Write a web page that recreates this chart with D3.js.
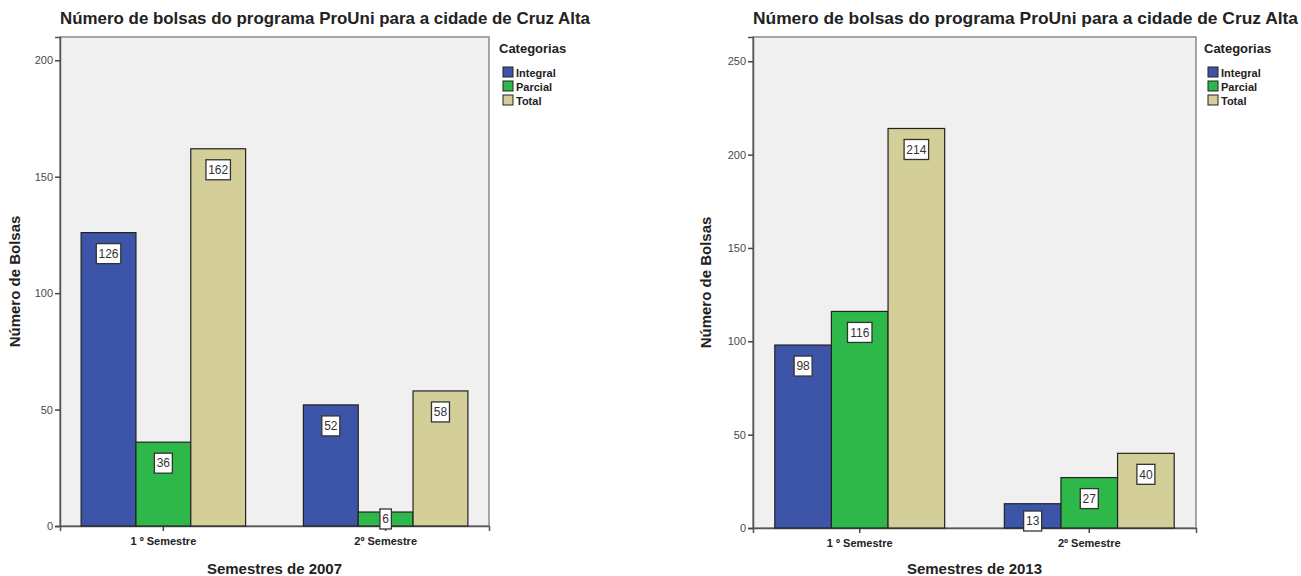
<!DOCTYPE html>
<html>
<head>
<meta charset="utf-8">
<script src="https://cdn.jsdelivr.net/npm/d3@7"></script>
<style>
  body { margin: 0; background: #fff; }
  svg { display: block; font-family: "Liberation Sans", Arial, sans-serif; }
</style>
</head>
<body>
<script>
// data
var categories = ["1 º Semestre", "2º Semestre"];
var seriesNames = ["Integral", "Parcial", "Total"];
var seriesColors = ["#3d55a8", "#2fb84a", "#d4cf98"];

var integral2007 = [126, 52];
var parcial2007 = [36, 6];
var total2007 = [162, 58];
var ticks2007 = [0, 50, 100, 150, 200];

var integral2013 = [98, 13];
var parcial2013 = [116, 27];
var total2013 = [214, 40];
var ticks2013 = [0, 50, 100, 150, 200, 250];

var chartTitle = "Número de bolsas do programa ProUni para a cidade de Cruz Alta";
var yTitle = "Número de Bolsas";
var legendTitle = "Categorias";

var svg = d3.select("body").append("svg")
    .attr("width", 1301)
    .attr("height", 576);

function drawChart(cfg) {
    var g = svg.append("g");
    var series = [cfg.integral, cfg.parcial, cfg.total];

    var x = d3.scaleBand()
        .domain(categories)
        .range([cfg.left, cfg.right])
        .paddingInner(0.26)
        .paddingOuter(0.095);
    var xs = d3.scaleBand()
        .domain(seriesNames)
        .range([0, x.bandwidth()]);
    var y = d3.scaleLinear()
        .domain([0, cfg.yMax])
        .range([cfg.bottom, cfg.top]);

    // title
    g.append("text")
        .attr("x", cfg.left)
        .attr("y", 24)
        .attr("textLength", cfg.titleWidth)
        .attr("lengthAdjust", "spacingAndGlyphs")
        .style("font-size", "17px")
        .style("font-weight", "bold")
        .style("fill", "#222")
        .text(chartTitle);

    // plot background
    g.append("rect")
        .attr("x", cfg.left)
        .attr("y", cfg.top)
        .attr("width", cfg.right - cfg.left)
        .attr("height", cfg.bottom - cfg.top)
        .attr("fill", "#f0f0f0")
        .attr("stroke", "#8a8a8a")
        .attr("stroke-width", 1.5);

    // y axis
    var yAxis = g.append("g")
        .attr("transform", "translate(" + cfg.left + ",0)")
        .call(d3.axisLeft(y).tickValues(cfg.ticks).tickSize(5).tickPadding(2));
    yAxis.select(".domain").attr("stroke", "#555").attr("stroke-width", 1.5);
    yAxis.selectAll(".tick line").attr("stroke", "#444").attr("stroke-width", 1.5);
    yAxis.selectAll("text")
        .style("font-size", "11px")
        .style("font-family", "'Liberation Sans', Arial, sans-serif")
        .style("fill", "#4a4a4a");

    // x axis
    var xAxis = g.append("g")
        .attr("transform", "translate(0," + cfg.bottom + ")")
        .call(d3.axisBottom(x).tickSize(5).tickPadding(6));
    xAxis.select(".domain").attr("stroke", "#555").attr("stroke-width", 1.5);
    xAxis.selectAll(".tick line").attr("stroke", "#444").attr("stroke-width", 1.5);
    xAxis.selectAll("text")
        .style("font-size", "11px")
        .style("font-weight", "bold")
        .style("font-family", "'Liberation Sans', Arial, sans-serif")
        .style("fill", "#222");

    // bars
    var rows = [];
    categories.forEach(function(c, i) {
        seriesNames.forEach(function(s, j) {
            rows.push({cat: c, name: s, value: series[j][i], color: seriesColors[j]});
        });
    });

    g.selectAll(".bar")
        .data(rows)
        .enter().append("rect")
        .attr("class", "bar")
        .attr("x", function(d) { return x(d.cat) + xs(d.name); })
        .attr("y", function(d) { return y(d.value); })
        .attr("width", xs.bandwidth())
        .attr("height", function(d) { return y(0) - y(d.value); })
        .attr("fill", function(d) { return d.color; })
        .attr("stroke", "#222")
        .attr("stroke-width", 1.2);

    // value labels
    var lab = g.selectAll(".lab")
        .data(rows)
        .enter().append("g")
        .attr("class", "lab")
        .attr("transform", function(d) {
            var cx = x(d.cat) + xs(d.name) + xs.bandwidth() / 2;
            var cy = Math.min(y(d.value) + 21, y(0) - 7);
            return "translate(" + cx + "," + cy + ")";
        });
    lab.append("rect")
        .attr("x", function(d) { return -(String(d.value).length * 6.5 + 5) / 2; })
        .attr("y", -10)
        .attr("width", function(d) { return String(d.value).length * 6.5 + 5; })
        .attr("height", 20)
        .attr("fill", "#fff")
        .attr("stroke", "#333")
        .attr("stroke-width", 1.3);
    lab.append("text")
        .attr("text-anchor", "middle")
        .attr("dy", "0.35em")
        .style("font-size", "12px")
        .style("fill", "#333")
        .text(function(d) { return d.value; });

    // axis titles
    g.append("text")
        .attr("transform", "translate(" + cfg.yTitleX + "," + ((cfg.top + cfg.bottom) / 2) + ") rotate(-90)")
        .attr("text-anchor", "middle")
        .style("font-size", "15px")
        .style("font-weight", "bold")
        .style("fill", "#222")
        .text(yTitle);

    g.append("text")
        .attr("x", (cfg.left + cfg.right) / 2)
        .attr("y", 574)
        .attr("text-anchor", "middle")
        .style("font-size", "15px")
        .style("font-weight", "bold")
        .style("fill", "#222")
        .text(cfg.xTitle);

    // legend
    var leg = g.append("g").attr("transform", "translate(" + cfg.legendX + ",0)");
    leg.append("text")
        .attr("x", 0)
        .attr("y", 53)
        .style("font-size", "13px")
        .style("font-weight", "bold")
        .style("fill", "#222")
        .text(legendTitle);
    var items = leg.selectAll(".item")
        .data(seriesNames)
        .enter().append("g")
        .attr("transform", function(d, i) { return "translate(4," + (67 + i * 14) + ")"; });
    items.append("rect")
        .attr("width", 10)
        .attr("height", 10)
        .attr("fill", function(d, i) { return seriesColors[i]; })
        .attr("stroke", "#222")
        .attr("stroke-width", 1);
    items.append("text")
        .attr("x", 13)
        .attr("y", 9.5)
        .style("font-size", "11px")
        .style("font-weight", "bold")
        .style("fill", "#222")
        .text(function(d) { return d; });
}

drawChart({
    integral: integral2007, parcial: parcial2007, total: total2007, ticks: ticks2007,
    yMax: 210, left: 60, right: 489, top: 37, bottom: 526,
    titleWidth: 530, yTitleX: 20, legendX: 499, xTitle: "Semestres de 2007"
});

drawChart({
    integral: integral2013, parcial: parcial2013, total: total2013, ticks: ticks2013,
    yMax: 263, left: 753, right: 1196, top: 37, bottom: 528,
    titleWidth: 545, yTitleX: 711, legendX: 1204, xTitle: "Semestres de 2013"
});
</script>
</body>
</html>
